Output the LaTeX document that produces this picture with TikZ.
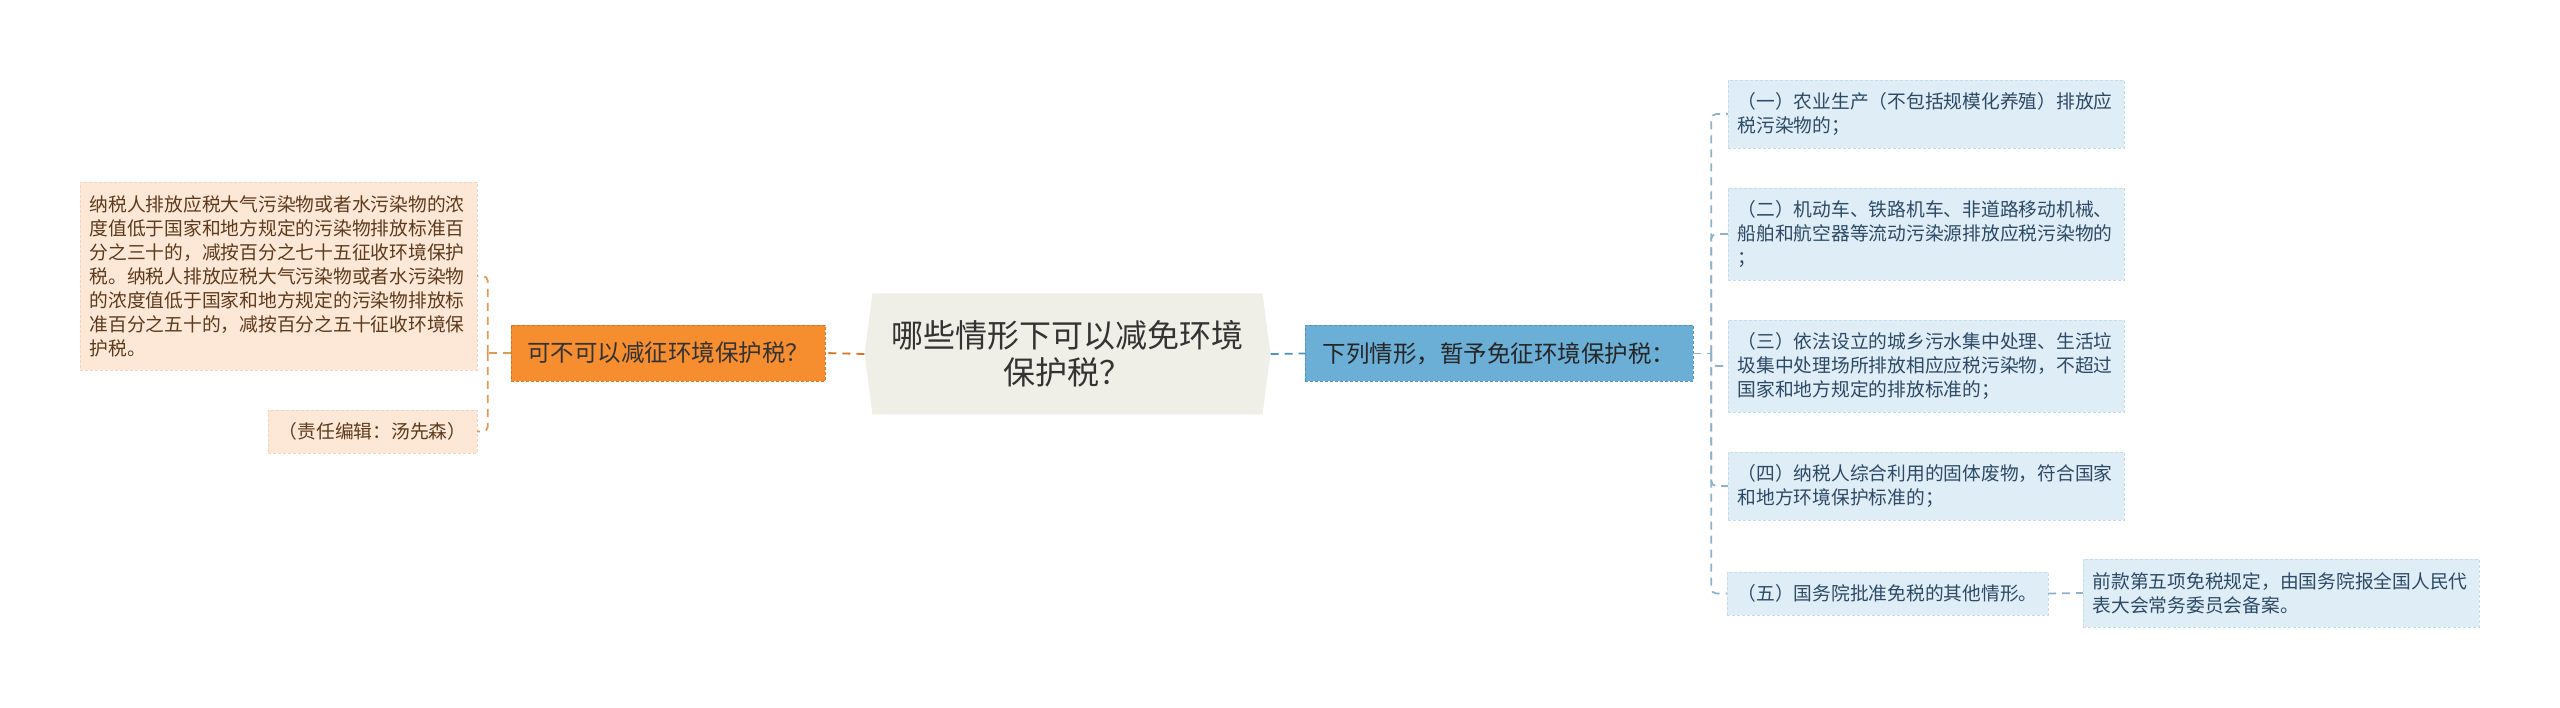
\documentclass[tikz,border=0pt]{standalone}
\usepackage{fontspec}
\setmainfont{Noto Sans CJK SC}
\usepackage{tikz}
\usetikzlibrary{positioning}
\usetikzlibrary{shapes.symbols}
\usepackage{xcolor}

\definecolor{rootfill}{HTML}{EFEFE7}
\definecolor{rootink}{HTML}{333333}
\definecolor{askfill}{HTML}{F68D2E}
\definecolor{askline}{HTML}{D9731C}
\definecolor{peach}{HTML}{FDE8D7}
\definecolor{peachline}{HTML}{F3D3BC}
\definecolor{brownink}{HTML}{5E3A1C}
\definecolor{freefill}{HTML}{6BAED6}
\definecolor{freeline}{HTML}{4F93BF}
\definecolor{icefill}{HTML}{DFEDF7}
\definecolor{iceline}{HTML}{C6DCEB}
\definecolor{blueink}{HTML}{2C4A66}
\definecolor{lwire}{HTML}{E09A58}
\definecolor{rwire}{HTML}{8FB2CB}

\begin{document}
\begin{tikzpicture}[x=1pt, y=-1pt,
  small/.style={font=\fontsize{18.75}{24}\selectfont, align=left, inner xsep=9.5pt, inner ysep=10pt},
  lbox/.style={small, fill=peach, draw=peachline, densely dashed, text=brownink},
  rbox/.style={small, fill=icefill, draw=iceline, densely dashed, text=blueink},
  mid/.style={font=\fontsize{23.5}{28}\selectfont, inner xsep=10pt, densely dashed, minimum height=56pt},
  lwire/.style={draw=lwire, line width=1.8pt, dash pattern=on 8pt off 6pt, rounded corners=5pt},
  rwire/.style={draw=rwire, line width=1.8pt, dash pattern=on 8pt off 6pt, rounded corners=5pt}
]
\useasboundingbox (0,0) rectangle (2560,708);

% centre
\node[signal, signal to=east and west, signal pointer angle=165, fill=rootfill,
  minimum width=406pt, minimum height=121pt, align=center, text=rootink,
  font=\fontsize{32}{37}\selectfont] (root) at (1067.5,354)
  {哪些情形下可以减免环境\\保护税？};

% left side
\node[mid, fill=askfill, draw=askline, text=black!80, minimum width=314pt] (ask) at (668,353)
  {可不可以减征环境保护税？};

\node[lbox, text width=378pt, minimum height=188pt] (cut) at (278.5,276)
  {纳税人排放应税大气污染物或者水污染物的浓\\
   度值低于国家和地方规定的污染物排放标准百\\
   分之三十的，减按百分之七十五征收环境保护\\
   税。纳税人排放应税大气污染物或者水污染物\\
   的浓度值低于国家和地方规定的污染物排放标\\
   准百分之五十的，减按百分之五十征收环境保\\
   护税。};

\node[lbox, minimum width=209pt, minimum height=43pt] (editor) at (372.5,431.5)
  {（责任编辑：汤先森）};

% right side
\node[mid, fill=freefill, draw=freeline, text=black!85, minimum width=388pt] (free) at (1499,353.5)
  {下列情形，暂予免征环境保护税：};

\node[rbox, text width=377pt, minimum height=68pt] (one) at (1926,114)
  {（一）农业生产（不包括规模化养殖）排放应\\税污染物的；};
\node[rbox, text width=377pt, minimum height=92pt] (two) at (1926,234)
  {（二）机动车、铁路机车、非道路移动机械、\\船舶和航空器等流动污染源排放应税污染物的\\；};
\node[rbox, text width=377pt, minimum height=92pt] (three) at (1926,366)
  {（三）依法设立的城乡污水集中处理、生活垃\\圾集中处理场所排放相应应税污染物，不超过\\国家和地方规定的排放标准的；};
\node[rbox, text width=377pt, minimum height=68pt] (four) at (1926,486)
  {（四）纳税人综合利用的固体废物，符合国家\\和地方环境保护标准的；};
\node[rbox, minimum width=321pt, minimum height=43pt] (five) at (1887.5,593.5)
  {（五）国务院批准免税的其他情形。};
\node[rbox, text width=377pt, minimum height=68pt] (note) at (2281,593)
  {前款第五项免税规定，由国务院报全国人民代\\表大会常务委员会备案。};

% connectors
\draw[lwire, draw=askline] (root.west) -- (ask.east);
\draw[lwire] (ask.west) -- ++(-23,0) coordinate (lj);
\draw[lwire] (lj) |- (cut.east);
\draw[lwire] (lj) |- (editor.east);

\draw[rwire, draw=freeline] (root.east) -- (free.west);
\draw[rwire] (free.east) -- ++(18,0) coordinate (rj);
\foreach \n in {one,two,three,four,five}
  \draw[rwire] (rj) |- (\n.west);
\draw[rwire] (five.east) -- (note.west);

\end{tikzpicture}
\end{document}
